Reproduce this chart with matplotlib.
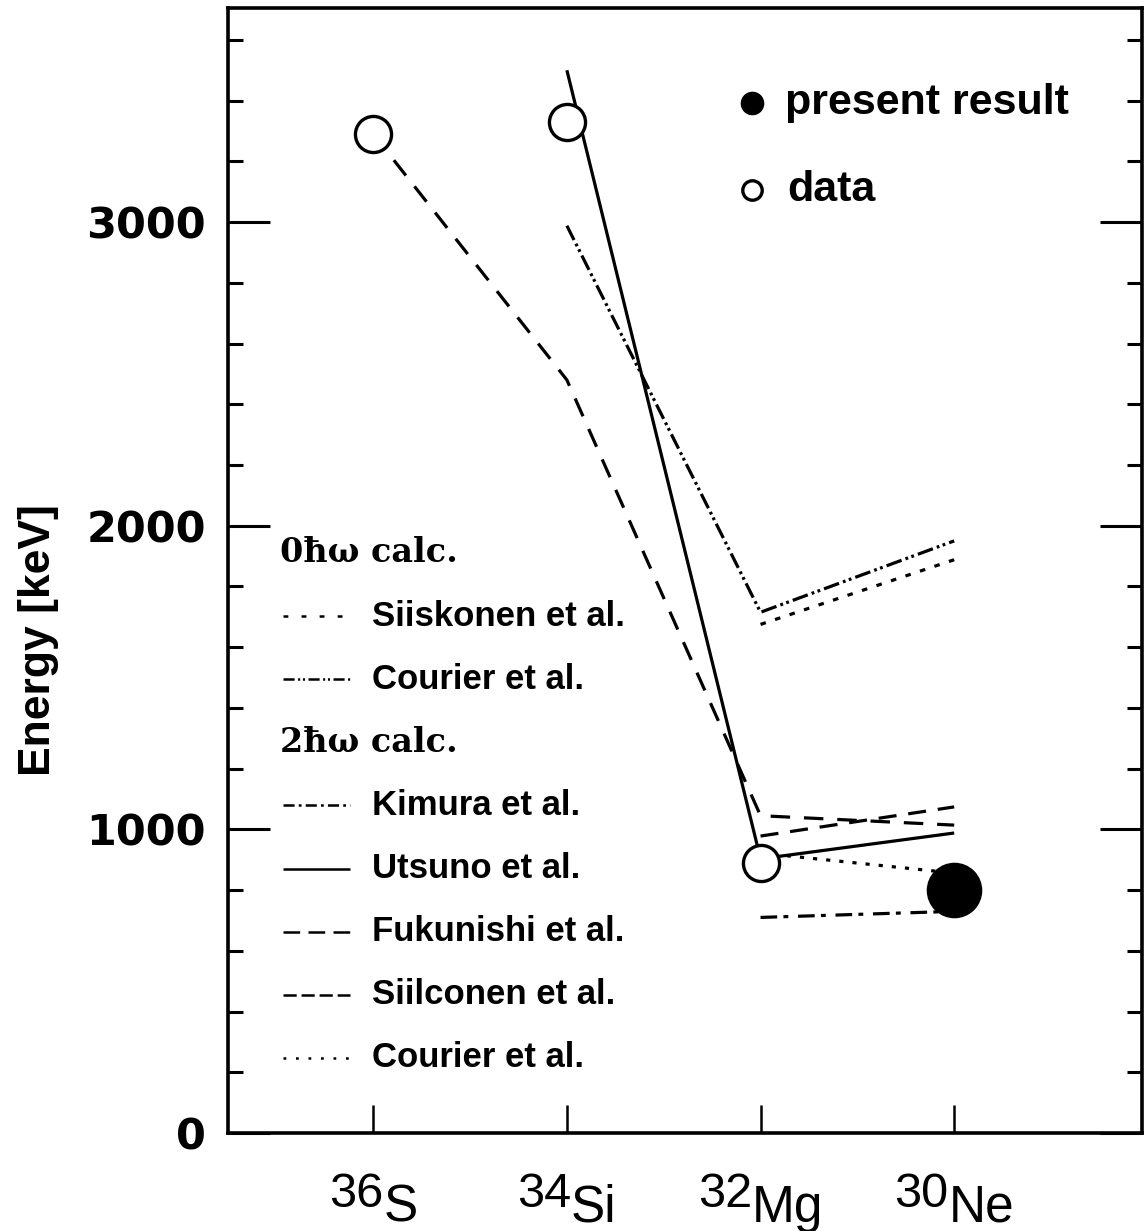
import numpy as np
import matplotlib
matplotlib.use("Agg")
import matplotlib.pyplot as plt
from matplotlib.ticker import MultipleLocator, FixedLocator, NullFormatter
from matplotlib import font_manager

nan = np.nan

# isotopes along the x axis
mass_numbers = ["36", "34", "32", "30"]
elements = ["S", "Si", "Mg", "Ne"]

# measured 2+ energies [keV]
data_exp = [3290, 3330, 890, nan]
present_result = [nan, nan, nan, 800]

# 0hw calculations
siiskonen_0hw = [nan, nan, 1675, 1888]
courier_0hw = [nan, 2988, 1715, 1950]
# 2hw calculations
kimura_2hw = [nan, nan, 710, 730]
utsuno_2hw = [nan, 3500, 903, 988]
fukunishi_2hw = [3290, 2480, 1045, 1014]
siilconen_2hw = [nan, nan, 978, 1074]
courier_2hw = [nan, nan, 922, 856]

plt.rcParams["lines.scale_dashes"] = False

names = [f.name for f in font_manager.fontManager.ttflist]
narrow = "Liberation Sans Narrow" if "Liberation Sans Narrow" in names else "Liberation Sans"

fig = plt.figure(figsize=(11.48, 12.31), dpi=100)
ax = fig.add_axes([0.1986, 0.0796, 0.7962, 0.9139])
x = np.arange(len(elements))

# (label, values, dash in plot, dash in key) ; None = solid
groups = [
    ("0ħω calc.", [
        ("Siiskonen et al.", siiskonen_0hw, (4, 7), (3.5, 9.5)),
        ("Courier et al.", courier_0hw, (11.5, 3, 2, 2.5, 2, 3), (8, 2.5, 1.5, 2, 1.5, 2.5)),
    ]),
    ("2ħω calc.", [
        ("Kimura et al.", kimura_2hw, (12, 4.5, 3.5, 7), (8, 3, 2, 3)),
        ("Utsuno et al.", utsuno_2hw, None, None),
        ("Fukunishi et al.", fukunishi_2hw, (14, 10), (12, 6)),
        ("Siilconen et al.", siilconen_2hw, (13, 8.5), (9.5, 3.5)),
        ("Courier et al.", courier_2hw, (3, 6.5), (2, 7)),
    ]),
]

for header, series in groups:
    for label, vals, dash, key in series:
        ln, = ax.plot(x, vals, color="black", lw=2.3, solid_capstyle="butt")
        if dash is not None:
            ln.set_dashes(dash)

ax.plot(x, data_exp, "o", ms=26, mfc="white", mec="black", mew=2.4, zorder=5)
ax.plot(x, present_result, "o", ms=39, mfc="black", mec="black", zorder=5)

ax.set_xlim(-0.75, 3.97)
ax.set_ylim(0, 3705)

# axes frame and ticks
for s in ax.spines.values():
    s.set_linewidth(2.6)
ax.xaxis.set_major_locator(FixedLocator(x))
ax.xaxis.set_major_formatter(NullFormatter())
ax.tick_params(axis="x", direction="in", length=20, width=1.8, top=False)
ax.yaxis.set_major_locator(MultipleLocator(1000))
ax.yaxis.set_minor_locator(MultipleLocator(200))
ax.tick_params(axis="y", which="major", direction="in", length=30, width=2.2,
               right=True, pad=16, labelsize=31)
ax.tick_params(axis="y", which="minor", direction="in", length=11, width=2.2, right=True)
for t in ax.get_yticklabels():
    t.set_fontfamily("DejaVu Sans")
    t.set_fontweight("bold")

ax.set_ylabel("Energy [keV]", fontsize=32, fontweight="bold", family="Liberation Sans")
ax.yaxis.set_label_coords(-0.185, 0.438)

# isotope labels: mass number raised, element symbol lowered
pairs = []
for xi, m, e in zip(x, mass_numbers, elements):
    tm = ax.annotate(m, xy=(xi, 0), xycoords=("data", "axes fraction"),
                     xytext=(0, -53), textcoords="offset points",
                     ha="right", va="baseline", fontsize=35, family=narrow)
    te = ax.annotate(e, xy=(xi, 0), xycoords=("data", "axes fraction"),
                     xytext=(0, -64), textcoords="offset points",
                     ha="left", va="baseline", fontsize=37, family=narrow)
    pairs.append((tm, te))

# top right legend
ax.plot([0.573], [0.9156], "o", transform=ax.transAxes, ms=16, color="black")
ax.text(0.609, 0.9156, "present result", transform=ax.transAxes, va="center",
        fontsize=31, fontweight="bold", family="Liberation Sans")
ax.plot([0.573], [0.838], "o", transform=ax.transAxes, ms=14, mfc="white",
        mec="black", mew=2.4)
ax.text(0.612, 0.838, "data", transform=ax.transAxes, va="center",
        fontsize=31, fontweight="bold", family="Liberation Sans")

# left legend
row_y = 0.5156
step = 0.0561
for header, series in groups:
    ax.text(0.0569, row_y, header, transform=ax.transAxes, va="center",
            fontsize=24, fontweight="heavy", family="DejaVu Serif")
    row_y -= step
    for label, vals, dash, key in series:
        ln, = ax.plot([0.060, 0.1335], [row_y, row_y], transform=ax.transAxes,
                      color="black", lw=1.8, solid_capstyle="butt")
        if key is not None:
            ln.set_dashes(key)
        ax.text(0.1575, row_y, label, transform=ax.transAxes, va="center",
                fontsize=25, fontweight="bold", family="Liberation Sans")
        row_y -= step

# centre each isotope label on its tick
fig.canvas.draw()
r = fig.canvas.get_renderer()
for tm, te in pairs:
    wm = tm.get_window_extent(r).width
    we = te.get_window_extent(r).width
    shift = (wm - we) / 2 * 72 / fig.dpi
    tm.xyann = (shift, tm.xyann[1])
    te.xyann = (shift, te.xyann[1])

fig.savefig("out.png", dpi=100)
